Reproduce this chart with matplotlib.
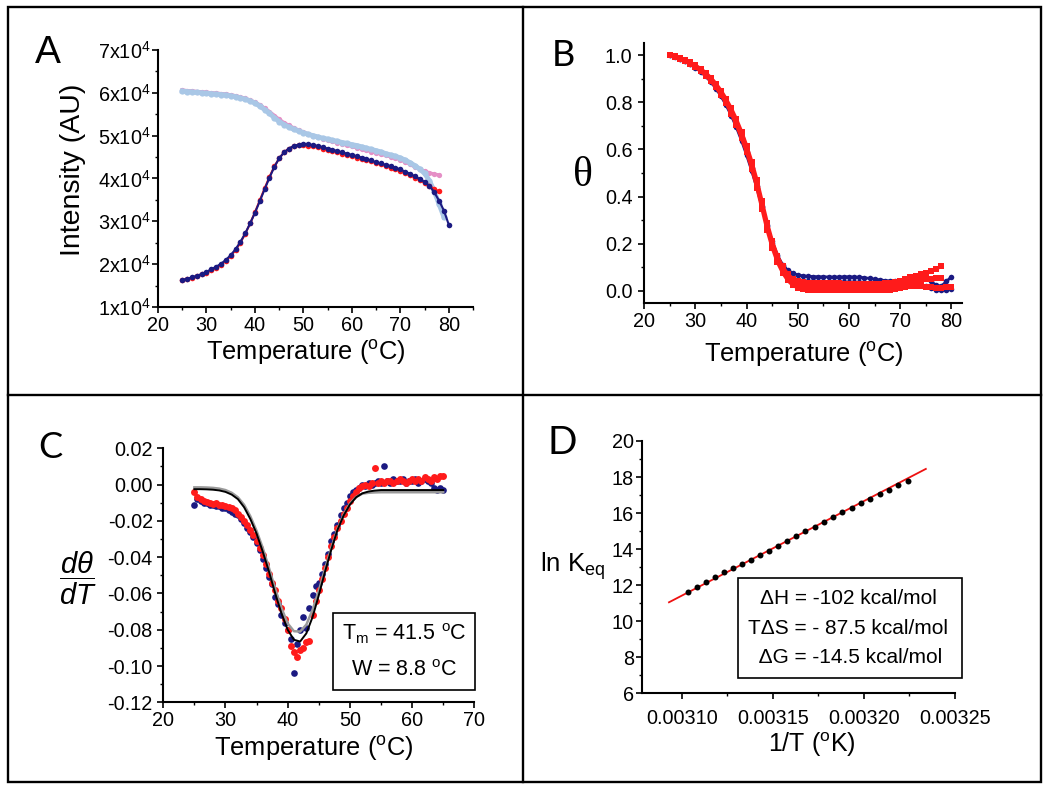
import numpy as np
import matplotlib
matplotlib.use("Agg")
from matplotlib import pyplot as plt
from matplotlib.patches import Rectangle
from matplotlib.lines import Line2D
from matplotlib.ticker import MultipleLocator

plt.rcParams['font.family'] = ['Liberation Sans', 'DejaVu Sans']
plt.rcParams['mathtext.fontset'] = 'custom'
plt.rcParams['mathtext.rm'] = 'Liberation Sans'
plt.rcParams['mathtext.it'] = 'Liberation Sans:italic'
plt.rcParams['mathtext.bf'] = 'Liberation Sans:bold'

NAVY = '#1b1a82'
RED = '#ff1b1b'
LBLUE = '#a9c7e6'
PINK = '#e58fc6'

# ---- panel A: intensity (x10^4) vs temperature, 1 degree steps ----
tA_long = np.arange(25, 81)   # 25..80
tA_mid = np.arange(25, 80)    # 25..79
tA_short = np.arange(25, 79)  # 25..78

a_navy = [1.63, 1.66, 1.69, 1.73, 1.77, 1.82, 1.88, 1.94, 2.01, 2.10,
          2.21, 2.35, 2.52, 2.72, 2.95, 3.20, 3.47, 3.75, 4.02, 4.27,
          4.47, 4.61, 4.70, 4.76, 4.79, 4.80, 4.80, 4.78, 4.76, 4.73,
          4.70, 4.67, 4.64, 4.61, 4.58, 4.55, 4.52, 4.49, 4.45, 4.42,
          4.38, 4.35, 4.32, 4.29, 4.25, 4.21, 4.16, 4.11, 4.05, 3.99,
          3.92, 3.83, 3.68, 3.48, 3.25, 2.92]
a_red = [1.63, 1.65, 1.68, 1.72, 1.76, 1.80, 1.86, 1.92, 1.99, 2.08,
         2.19, 2.33, 2.50, 2.71, 2.95, 3.21, 3.49, 3.77, 4.04, 4.28,
         4.47, 4.61, 4.70, 4.75, 4.78, 4.78, 4.77, 4.75, 4.73, 4.70,
         4.67, 4.64, 4.61, 4.58, 4.55, 4.52, 4.49, 4.46, 4.43, 4.40,
         4.36, 4.33, 4.29, 4.25, 4.21, 4.17, 4.12, 4.07, 4.02, 3.96,
         3.90, 3.83, 3.75, 3.70]
a_lblue = [6.04, 6.03, 6.02, 6.01, 6.00, 5.99, 5.98, 5.97, 5.96, 5.95,
           5.93, 5.91, 5.88, 5.85, 5.81, 5.76, 5.69, 5.61, 5.52, 5.42,
           5.33, 5.26, 5.20, 5.15, 5.11, 5.07, 5.03, 5.00, 4.97, 4.94,
           4.92, 4.89, 4.87, 4.84, 4.82, 4.79, 4.77, 4.74, 4.71, 4.68,
           4.65, 4.62, 4.58, 4.55, 4.52, 4.48, 4.43, 4.37, 4.30, 4.22,
           4.12, 3.95, 3.70, 3.40, 3.10]
a_pink = [6.06, 6.05, 6.04, 6.03, 6.02, 6.01, 6.00, 5.99, 5.98, 5.97,
          5.95, 5.93, 5.90, 5.87, 5.83, 5.78, 5.72, 5.64, 5.56, 5.47,
          5.38, 5.30, 5.24, 5.18, 5.13, 5.08, 5.04, 5.00, 4.96, 4.93,
          4.90, 4.87, 4.84, 4.81, 4.78, 4.75, 4.72, 4.69, 4.66, 4.63,
          4.60, 4.57, 4.54, 4.51, 4.48, 4.44, 4.39, 4.33, 4.27, 4.22,
          4.17, 4.13, 4.10, 4.08]
a_ytick_labels = ['1x10$^4$', '2x10$^4$', '3x10$^4$', '4x10$^4$',
                  '5x10$^4$', '6x10$^4$', '7x10$^4$']

# ---- panel B: fraction folded ----
tB_long = np.arange(25, 81)
tB_short = np.arange(25, 79)
b_red1 = [1.000, 0.994, 0.986, 0.977, 0.966, 0.953, 0.938, 0.920, 0.898, 0.872,
          0.842, 0.806, 0.765, 0.718, 0.664, 0.604, 0.537, 0.455, 0.365, 0.275,
          0.200, 0.140, 0.095, 0.062, 0.042,
          0.030, 0.023, 0.019, 0.017, 0.016, 0.015, 0.015, 0.014, 0.014, 0.014,
          0.013, 0.013, 0.013, 0.014, 0.015, 0.017, 0.020, 0.024, 0.030, 0.037,
          0.044, 0.052, 0.059, 0.065, 0.071, 0.077, 0.084, 0.094, 0.104]
b_red2 = [1.000, 0.995, 0.988, 0.979, 0.969, 0.957, 0.942, 0.925, 0.904, 0.879,
          0.849, 0.814, 0.774, 0.728, 0.675, 0.615, 0.548, 0.470, 0.380, 0.290,
          0.212, 0.150, 0.104, 0.072, 0.052,
          0.043, 0.038, 0.035, 0.034, 0.033, 0.033, 0.032, 0.032, 0.032, 0.031,
          0.031, 0.031, 0.030, 0.030, 0.030, 0.030, 0.031, 0.032, 0.033, 0.035,
          0.037, 0.040, 0.042, 0.045, 0.047, 0.049, 0.051, 0.053, 0.055]
b_red3 = [1.000, 0.993, 0.984, 0.974, 0.962, 0.948, 0.932, 0.913, 0.890, 0.863,
          0.832, 0.795, 0.752, 0.703, 0.648, 0.587, 0.518, 0.438, 0.348, 0.258,
          0.183, 0.122, 0.078, 0.045, 0.024,
          0.013, 0.007, 0.004, 0.003, 0.002, 0.002, 0.002, 0.002, 0.002, 0.002,
          0.002, 0.002, 0.003, 0.003, 0.003, 0.004, 0.004, 0.005, 0.006, 0.008,
          0.012, 0.016, 0.020, 0.022, 0.020, 0.018, 0.015, 0.013, 0.012, 0.015,
          0.018]
b_navy1 = [1.000, 0.993, 0.984, 0.973, 0.961, 0.947, 0.930, 0.910, 0.886, 0.858,
           0.825, 0.787, 0.743, 0.693, 0.637, 0.575, 0.508, 0.435, 0.355, 0.275,
           0.205, 0.150, 0.112, 0.088, 0.075,
           0.068, 0.064, 0.062, 0.061, 0.060, 0.060, 0.059, 0.059, 0.059, 0.060,
           0.060, 0.059, 0.058, 0.056, 0.053, 0.050, 0.047, 0.044, 0.042, 0.041,
           0.042, 0.045, 0.050, 0.055, 0.058, 0.055, 0.040, 0.025, 0.020, 0.040,
           0.060]
b_navy2 = [1.000, 0.994, 0.985, 0.975, 0.964, 0.951, 0.935, 0.916, 0.893, 0.866,
           0.835, 0.798, 0.755, 0.706, 0.650, 0.589, 0.522, 0.445, 0.362, 0.280,
           0.210, 0.152, 0.106, 0.074, 0.055,
           0.047, 0.043, 0.041, 0.040, 0.039, 0.039, 0.038, 0.038, 0.038, 0.038,
           0.037, 0.037, 0.036, 0.035, 0.033, 0.031, 0.029, 0.028, 0.027, 0.027,
           0.027, 0.028, 0.028, 0.027, 0.025, 0.020, 0.012, 0.006, 0.003, 0.005,
           0.008]

# ---- panel C: derivative, 0.5 degree steps ----
tC = np.arange(25, 65.5, 0.5)
c_red = [-0.004, -0.007, -0.008, -0.009, -0.0095, -0.010, -0.0105, -0.010, -0.011, -0.011,
         -0.012, -0.0125, -0.013, -0.014, -0.016, -0.018, -0.020, -0.022, -0.025, -0.028,
         -0.031, -0.035, -0.039, -0.044, -0.049, -0.054, -0.058, -0.064, -0.068, -0.074,
         -0.080, -0.089, -0.092, -0.095, -0.091, -0.090, -0.087, -0.086, -0.072, -0.064,
         -0.058, -0.052, -0.046, -0.040, -0.034, -0.029, -0.024, -0.020, -0.016, -0.013,
         -0.009, -0.006, -0.004, -0.002, -0.001, 0.000, -0.001, 0.001, 0.009, 0.001,
         0.002, 0.001, 0.002, 0.002, 0.001, 0.002, 0.003, 0.002, 0.001, 0.002,
         0.003, 0.002, 0.003, 0.002, 0.004, 0.003, 0.002, 0.004, 0.003, 0.005,
         0.005]
c_navy = [-0.011, -0.008, -0.009, -0.010, -0.010, -0.011, -0.011, -0.012, -0.012, -0.013,
          -0.013, -0.014, -0.015, -0.016, -0.017, -0.019, -0.021, -0.024, -0.026, -0.029,
          -0.032, -0.036, -0.041, -0.046, -0.051, -0.055, -0.062, -0.066, -0.072, -0.076,
          -0.080, -0.085, -0.104, -0.088, -0.080, -0.073, -0.079, -0.068, -0.061, -0.056,
          -0.054, -0.049, -0.044, -0.038, -0.031, -0.027, -0.022, -0.017, -0.013, -0.010,
          -0.006, -0.004, -0.003, -0.002, 0.000, -0.001, 0.001, 0.000, 0.001, 0.002,
          0.001, 0.010, 0.002, 0.001, 0.003, 0.002, 0.002, 0.003, 0.001, 0.002,
          0.002, 0.003, 0.001, 0.002, 0.003, 0.002, 0.001, -0.002, -0.003, -0.002,
          -0.003]
tC_fit = np.arange(25, 66)
c_fit = [-0.0025, -0.0025, -0.0026, -0.0028, -0.0032, -0.0040, -0.0055, -0.0080, -0.0125, -0.0190,
         -0.0270, -0.0370, -0.0480, -0.0600, -0.0710, -0.0800, -0.0855, -0.0865, -0.0820, -0.0730,
         -0.0610, -0.0480, -0.0360, -0.0250, -0.0170, -0.0110, -0.0070, -0.0048, -0.0038, -0.0033,
         -0.0030, -0.0030, -0.0030, -0.0030, -0.0030, -0.0030, -0.0030, -0.0030, -0.0030, -0.0030,
         -0.0030]
c_fit2 = [-0.0015, -0.0015, -0.0016, -0.0018, -0.0022, -0.0030, -0.0045, -0.0070, -0.0112, -0.0175,
          -0.0255, -0.0350, -0.0460, -0.0575, -0.0680, -0.0765, -0.0808, -0.0810, -0.0772, -0.0690,
          -0.0585, -0.0465, -0.0350, -0.0245, -0.0165, -0.0105, -0.0068, -0.0050, -0.0045, -0.0043,
          -0.0042, -0.0042, -0.0042, -0.0042, -0.0042, -0.0042, -0.0042, -0.0042, -0.0042, -0.0042,
          -0.0042]

# ---- panel D: van't Hoff ----
d_invT = [0.0031037, 0.0031086, 0.0031135, 0.0031183, 0.0031232, 0.0031281, 0.0031331,
          0.0031380, 0.0031430, 0.0031479, 0.0031529, 0.0031579, 0.0031629, 0.0031679,
          0.0031729, 0.0031780, 0.0031830, 0.0031881, 0.0031932, 0.0031983, 0.0032034,
          0.0032086, 0.0032137, 0.0032189, 0.0032241]
d_lnK = [11.64, 11.92, 12.20, 12.47, 12.73, 12.97, 13.19, 13.42, 13.66, 13.90,
         14.17, 14.45, 14.73, 14.99, 15.25, 15.52, 15.78, 16.04, 16.30, 16.56,
         16.80, 17.06, 17.28, 17.54, 17.76]
d_fit_x = [0.003093, 0.003234]
d_fit_y = [11.05, 18.45]


def style_axes(ax):
    for s in ['top', 'right']:
        ax.spines[s].set_visible(False)
    for s in ['left', 'bottom']:
        ax.spines[s].set_linewidth(1.5)
    ax.tick_params(which='major', direction='out', length=4.5, width=1.2,
                   labelsize=14.3, pad=2)
    ax.tick_params(which='minor', direction='out', length=2.5, width=1.0)


fig = plt.figure(figsize=(10.5, 7.91), dpi=100)

# panel borders
fig.add_artist(Rectangle((7.5 / 1050, 1 - 782.3 / 791), (1041 - 7.5) / 1050, (782.3 - 7) / 791,
                         transform=fig.transFigure, fill=False, lw=1.7, ec='black'))
fig.add_artist(Line2D([523.3 / 1050] * 2, [1 - 7 / 791, 1 - 782.3 / 791],
                      transform=fig.transFigure, lw=1.7, color='black'))
fig.add_artist(Line2D([7.5 / 1050, 1041 / 1050], [1 - 394.7 / 791] * 2,
                      transform=fig.transFigure, lw=1.7, color='black'))

# ---- A ----
axA = fig.add_axes([0.1505, 0.6119, 0.300, 0.3249])
axA.plot(tA_short, a_pink, '-o', color=PINK, ms=3.8, lw=2.5, mew=0)
axA.plot(tA_mid, a_lblue, '-o', color=LBLUE, ms=4.5, lw=3.5, mew=0)
axA.plot(tA_short, a_red, '-o', color=RED, ms=4, lw=1.5, mew=0)
axA.plot(tA_long, a_navy, '-o', color=NAVY, ms=4, lw=1.5, mew=0)
axA.set_xlim(20, 85)
axA.set_ylim(1, 7)
axA.set_xticks([20, 30, 40, 50, 60, 70, 80])
axA.xaxis.set_minor_locator(MultipleLocator(5))
axA.set_yticks([1, 2, 3, 4, 5, 6, 7])
axA.set_yticklabels(a_ytick_labels)
axA.yaxis.set_minor_locator(MultipleLocator(0.5))
style_axes(axA)
axA.tick_params(axis='y', pad=1)
axA.text(0.469, -0.179, 'Temperature ($^{\\mathrm{o}}$C)', transform=axA.transAxes,
         ha='center', va='center', fontsize=18.4)
axA.text(-0.27, 0.533, 'Intensity (AU)', transform=axA.transAxes, rotation=90,
         ha='center', va='center', fontsize=20.5)

# ---- B ----
axB = fig.add_axes([0.6136, 0.6173, 0.3023, 0.328])
axB.plot(tB_long, b_navy1, '-o', color=NAVY, ms=4, lw=2, mew=0)
axB.plot(tB_long, b_navy2, '-o', color=NAVY, ms=4, lw=2, mew=0)
axB.plot(tB_short, b_red1, '-s', color=RED, ms=4.5, lw=2.5, mew=0)
axB.plot(tB_short, b_red2, '-s', color=RED, ms=4.5, lw=2.5, mew=0)
axB.plot(tB_long, b_red3, '-s', color=RED, ms=4.5, lw=2.5, mew=0)
axB.set_xlim(20, 82)
axB.set_ylim(-0.05, 1.05)
axB.set_xticks([20, 30, 40, 50, 60, 70, 80])
axB.xaxis.set_minor_locator(MultipleLocator(5))
axB.set_yticks([0.0, 0.2, 0.4, 0.6, 0.8, 1.0])
axB.yaxis.set_minor_locator(MultipleLocator(0.1))
style_axes(axB)
axB.tick_params(axis='y', pad=4)
axB.text(0.503, -0.198, 'Temperature ($^{\\mathrm{o}}$C)', transform=axB.transAxes,
         ha='center', va='center', fontsize=18.4)
axB.text(-0.193, 0.488, '\u03b8', transform=axB.transAxes, ha='center', va='center',
         fontsize=30, family=['Liberation Serif', 'DejaVu Serif'])

# ---- C ----
axC = fig.add_axes([0.1555, 0.1121, 0.2962, 0.3211])
axC.plot(tC, c_navy, 'o', color=NAVY, ms=4.8, mew=0)
axC.plot(tC, c_red, 'o', color=RED, ms=5, mew=0)
axC.plot(tC_fit, c_fit2, '-', color='#9a9a9a', lw=1.8)
axC.plot(tC_fit, c_fit, '-', color='black', lw=1.4)
axC.set_xlim(20, 70)
axC.set_ylim(-0.12, 0.02)
axC.set_xticks([20, 30, 40, 50, 60, 70])
axC.xaxis.set_minor_locator(MultipleLocator(5))
axC.set_yticks([-0.12, -0.10, -0.08, -0.06, -0.04, -0.02, 0.00, 0.02])
axC.set_yticklabels(['-0.12', '-0.10', '-0.08', '-0.06', '-0.04', '-0.02', '0.00', '0.02'])
axC.yaxis.set_minor_locator(MultipleLocator(0.01))
style_axes(axC)
axC.tick_params(axis='y', pad=3)
axC.text(0.485, -0.181, 'Temperature ($^{\\mathrm{o}}$C)', transform=axC.transAxes,
         ha='center', va='center', fontsize=18.4)
axC.text(-0.274, 0.489, r'$\dfrac{d\theta}{dT}$', transform=axC.transAxes,
         ha='center', va='center', fontsize=21)
axC.add_patch(Rectangle((0.547, 0.048), 0.456, 0.302, transform=axC.transAxes,
                        fill=False, lw=1.2, ec='black', clip_on=False))
axC.text(0.775, 0.27, 'T$_{\\mathrm{m}}$ = 41.5 $^{\\mathrm{o}}$C', transform=axC.transAxes,
         ha='center', va='center', fontsize=15.5)
axC.text(0.775, 0.125, 'W = 8.8 $^{\\mathrm{o}}$C', transform=axC.transAxes,
         ha='center', va='center', fontsize=15.5)

# ---- D ----
axD = fig.add_axes([0.6111, 0.1235, 0.2984, 0.319])
axD.plot(d_fit_x, d_fit_y, '-', color='#ee1111', lw=1.3)
axD.plot(d_invT, d_lnK, 'o', color='black', ms=4.3, mew=0)
axD.set_xlim(0.003078, 0.00325)
axD.set_ylim(6, 20)
axD.set_xticks([0.00310, 0.00315, 0.00320, 0.00325])
axD.set_xticklabels(['0.00310', '0.00315', '0.00320', '0.00325'])
axD.xaxis.set_minor_locator(MultipleLocator(0.000025))
axD.set_yticks([6, 8, 10, 12, 14, 16, 18, 20])
axD.yaxis.set_minor_locator(MultipleLocator(1))
style_axes(axD)
axD.tick_params(axis='y', pad=1)
axD.tick_params(axis='x', pad=7)
axD.text(0.543, -0.205, '1/T ($^{\\mathrm{o}}$K)', transform=axD.transAxes,
         ha='center', va='center', fontsize=18)
axD.text(-0.219, 0.502, 'ln K$_{\\mathrm{eq}}$', transform=axD.transAxes,
         ha='center', va='center', fontsize=18.5)
axD.add_patch(Rectangle((0.3074, 0.0596), 0.7163, 0.3964, transform=axD.transAxes,
                        fill=False, lw=1.2, ec='black', clip_on=False))
axD.text(0.66, 0.375, '\u0394H = -102 kcal/mol', transform=axD.transAxes,
         ha='center', va='center', fontsize=15)
axD.text(0.66, 0.258, 'T\u0394S = - 87.5 kcal/mol', transform=axD.transAxes,
         ha='center', va='center', fontsize=15)
axD.text(0.66, 0.142, ' \u0394G = -14.5 kcal/mol', transform=axD.transAxes,
         ha='center', va='center', fontsize=15)

# panel letters
fig.text(48 / 1050, 1 - 53 / 791, 'A', ha='center', va='center', fontsize=28)
fig.text(563 / 1050, 1 - 55 / 791, 'B', ha='center', va='center', fontsize=26,
         family=['Lato', 'DejaVu Sans'])
fig.text(50 / 1050, 1 - 448 / 791, 'C', ha='center', va='center', fontsize=26,
         family=['Lato', 'DejaVu Sans'])
fig.text(562 / 1050, 1 - 443 / 791, 'D', ha='center', va='center', fontsize=28,
         family=['Lato', 'DejaVu Sans'])

fig.savefig('out.png', dpi=100)
